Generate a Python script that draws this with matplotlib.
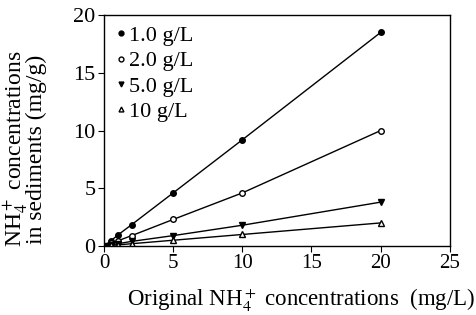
import matplotlib
matplotlib.use("Agg")
import matplotlib.pyplot as plt
from matplotlib.lines import Line2D

plt.rcParams['font.family'] = ['Liberation Serif', 'DejaVu Serif']
plt.rcParams['mathtext.fontset'] = 'stix'

# original NH4+ concentration (mg/L)
x = [0, 0.5, 1, 2, 5, 10, 20]
# NH4+ in sediments (mg/g) for each sediment dose
s1 = [0, 0.45, 0.95, 1.85, 4.6, 9.2, 18.5]
s2 = [0, 0.22, 0.45, 0.9, 2.3, 4.6, 10.0]
s5 = [0, 0.1, 0.2, 0.4, 0.9, 1.8, 3.8]
s10 = [0, 0.05, 0.1, 0.2, 0.5, 1.0, 2.0]
labels = ['1.0 g/L', '2.0 g/L', '5.0 g/L', '10 g/L']

fig = plt.figure(figsize=(4.77, 3.15), dpi=100)
ax = fig.add_axes([0.218, 0.219, 0.725, 0.733])

styles = [('o', 'black'), ('o', 'white'), ('v', 'black'), ('^', 'white')]
for ys, (m, fc) in zip([s1, s2, s5, s10], styles):
    ax.plot(x, ys, '-', marker=m, color='black', mfc=fc, ms=4, lw=1)

handles = [Line2D([], [], ls='none', marker=m, color='black', mfc=fc, ms=3.5)
           for m, fc in styles]
ax.legend(handles, labels, loc='upper left', bbox_to_anchor=(0.03, 0.97),
          frameon=False, fontsize=16, handlelength=0.3, handletextpad=0.2,
          labelspacing=0.22, borderaxespad=0.0, borderpad=0.15)

ax.set_xlim(0, 25)
ax.set_ylim(0, 20)
ax.set_xticks([0, 5, 10, 15, 20, 25])
ax.set_yticks([0, 5, 10, 15, 20])
ax.tick_params(direction='out', length=4, colors='black', pad=2)
ax.tick_params(axis='x', labelsize=15)
ax.tick_params(axis='y', labelsize=16)
for sp in ax.spines.values():
    sp.set_linewidth(1)

ax.set_xlabel('Original NH$_4^+$ concentrations  (mg/L)', fontsize=16.5)
ax.xaxis.set_label_coords(0.57, -0.175)
ax.set_ylabel('NH$_4^+$ concentrations\nin sediments (mg/g)', fontsize=17,
              linespacing=0.75)
ax.yaxis.set_label_coords(-0.165, 0.42)

fig.savefig('out.png', dpi=100)
